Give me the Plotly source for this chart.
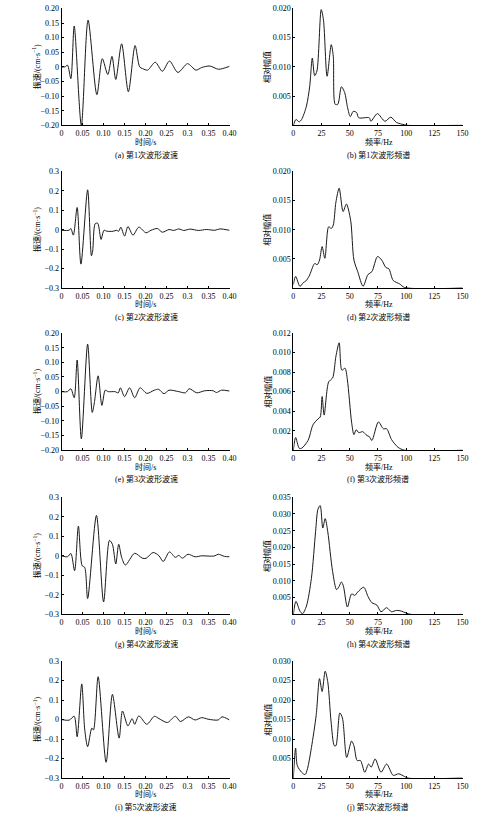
import plotly.graph_objects as go

# (a) 第1次波形波速
t1 = [0, 0.008, 0.014, 0.022, 0.030, 0.047, 0.063, 0.084, 0.097, 0.110, 0.120, 0.129, 0.143, 0.159, 0.175,
      0.186, 0.193, 0.205, 0.223, 0.240, 0.257, 0.277, 0.300, 0.320, 0.334, 0.353, 0.374, 0.400]
v1 = [0, 0, 0.006, -0.040, 0.140, -0.200, 0.160, -0.095, 0.028, -0.026, 0.036, -0.043, 0.079, -0.085, 0.073,
      0.000, -0.006, -0.011, 0.016, -0.015, 0.020, -0.019, 0.011, -0.011, -0.002, 0.003, -0.008, 0.002]
# (b) 第1次波形频谱
f1 = [0, 2.3, 5.2, 7.3, 11.6, 14.5, 16.8, 18.9, 20.9, 24.7, 26.7, 29.9, 33.6, 35.4, 37.1, 39.4, 42.6, 45.5,
      48.1, 50.5, 53.1, 56.0, 58.0, 67.3, 68.7, 74.5, 81.2, 86.4, 91.4, 98.6, 101.5, 150]
a1 = [0, 0.0010, 0.0006, 0.0010, 0.0033, 0.0067, 0.0115, 0.0085, 0.0093, 0.0198, 0.0180, 0.0084, 0.0138,
      0.0118, 0.0036, 0.0036, 0.0066, 0.0056, 0.0030, 0.0015, 0.0024, 0.0022, 0.0013, 0.0013, 0.0007, 0.0020,
      0.0007, 0.0014, 0.0005, 0.0001, 0, 0]

# (c) 第2次波形波速
t2 = [0, 0.018, 0.022, 0.028, 0.037, 0.046, 0.062, 0.071, 0.074, 0.080, 0.086, 0.094, 0.101, 0.108, 0.123,
      0.131, 0.136, 0.141, 0.150, 0.158, 0.170, 0.184, 0.201, 0.213, 0.228, 0.240, 0.256, 0.267, 0.279, 0.291,
      0.306, 0.326, 0.345, 0.365, 0.377, 0.400]
v2 = [-0.003, -0.003, 0.006, -0.028, 0.114, -0.177, 0.205, -0.134, -0.109, 0.031, 0.033, -0.050, -0.003,
      -0.008, -0.008, -0.003, -0.008, 0.013, -0.033, 0.016, -0.028, 0.013, -0.016, -0.003, 0.006, -0.013, 0.001,
      -0.004, 0.004, -0.004, 0.003, -0.004, 0.001, -0.003, 0.004, -0.003]
# (d) 第2次波形频谱
f2 = [0, 2, 5.8, 8.7, 11, 13.9, 18.9, 21.2, 23.2, 25.5, 27.9, 31.3, 33.6, 35.4, 37.7, 40.6, 44.1, 47, 50.8,
      53.7, 57.1, 61.8, 66.1, 69.6, 74.6, 78.3, 82.1, 84.7, 88.5, 94.3, 98.6, 150]
a2 = [0.0006, 0.0020, 0.0003, 0.0009, 0.0012, 0.0020, 0.0042, 0.0040, 0.0048, 0.0071, 0.0051, 0.0105, 0.0102,
      0.0108, 0.0147, 0.0171, 0.0131, 0.0144, 0.0116, 0.0048, 0.0028, 0.0003, 0.0023, 0.0028, 0.0054, 0.0048,
      0.0035, 0.0033, 0.0013, 0.0007, 0.0001, 0]

# (e) 第3次波形波速
t3 = [0, 0.014, 0.022, 0.030, 0.037, 0.047, 0.062, 0.073, 0.078, 0.087, 0.096, 0.104, 0.111, 0.127, 0.135,
      0.140, 0.150, 0.162, 0.174, 0.187, 0.203, 0.221, 0.231, 0.244, 0.256, 0.279, 0.295, 0.304, 0.322, 0.341,
      0.361, 0.369, 0.381, 0.400]
v3 = [0, 0, 0.010, -0.021, 0.108, -0.161, 0.162, -0.071, -0.038, 0.054, -0.047, 0.005, 0, 0, -0.004, 0.013,
      -0.017, 0.013, -0.021, 0.013, -0.006, 0.005, 0.008, -0.007, 0.005, 0, -0.004, 0.010, -0.004, 0.003, 0.003,
      -0.003, 0.005, 0.002]
# (f) 第3次波形频谱
f3 = [0, 2, 5.2, 7.3, 13, 17.4, 21.8, 23.8, 25.5, 27.3, 31.3, 34.8, 37.7, 40.6, 43, 45.8, 47.9, 51.6, 53.7,
      55.7, 58, 61.5, 65.3, 67.3, 69.6, 75.4, 79.8, 82.7, 87, 92.8, 98.6, 150]
a3 = [0, 0.0013, 0.0002, 0.0002, 0.0010, 0.0026, 0.0032, 0.0034, 0.0055, 0.0036, 0.0070, 0.0074, 0.0096,
      0.0110, 0.0082, 0.0084, 0.0072, 0.0029, 0.0016, 0.0021, 0.0018, 0.0019, 0.0015, 0.0014, 0.0010, 0.0029,
      0.0022, 0.0022, 0.0011, 0.0003, 0, 0]

# (g) 第4次波形波速
t4 = [0, 0.014, 0.022, 0.031, 0.040, 0.049, 0.055, 0.062, 0.083, 0.100, 0.114, 0.121, 0.129, 0.136, 0.143,
      0.152, 0.174, 0.192, 0.201, 0.218, 0.232, 0.242, 0.257, 0.271, 0.279, 0.288, 0.301, 0.318, 0.334, 0.357,
      0.365, 0.373, 0.388, 0.400]
v4 = [0, -0.005, 0.012, -0.076, 0.152, -0.051, -0.059, -0.219, 0.207, -0.236, 0.079, 0.059, -0.042, 0.059,
      -0.008, -0.047, 0.013, -0.012, -0.013, 0.017, 0, -0.029, 0.020, -0.008, 0.002, -0.012, 0.008, -0.005, 0,
      -0.002, 0, 0.008, -0.003, -0.005]
# (h) 第4次波形频谱
f4 = [0, 2.3, 5.8, 8.1, 11.6, 16, 19.7, 21.8, 23.8, 26.1, 28.2, 30.5, 34.8, 38.3, 40.6, 42.6, 44.4, 47.9,
      51.6, 54.5, 57.1, 62.4, 66.1, 69.6, 74, 77.7, 82.7, 87, 91.4, 95.7, 100, 104.4, 150]
a4 = [0, 0.0039, 0.0010, 0.0002, 0.0025, 0.0108, 0.0247, 0.0314, 0.0325, 0.0258, 0.0286, 0.0247, 0.0128,
      0.0074, 0.0084, 0.0097, 0.0084, 0.0022, 0.0061, 0.0057, 0.0067, 0.0081, 0.0054, 0.0035, 0.0028, 0.0008,
      0.0020, 0.0008, 0.0012, 0.0010, 0.0004, 0, 0]

# (i) 第5次波形波速
t5 = [0, 0.018, 0.030, 0.037, 0.048, 0.055, 0.062, 0.072, 0.076, 0.087, 0.106, 0.121, 0.137, 0.145, 0.158,
      0.168, 0.174, 0.184, 0.203, 0.221, 0.232, 0.252, 0.271, 0.283, 0.302, 0.318, 0.334, 0.349, 0.373, 0.382,
      0.400]
v5 = [0, -0.003, 0.017, -0.088, 0.183, -0.049, -0.139, -0.044, -0.053, 0.220, -0.219, 0.129, -0.095, 0.044,
      -0.032, 0.005, -0.024, 0.019, -0.024, 0.017, 0.005, -0.015, 0.017, -0.010, 0.014, -0.002, 0.010, 0.002,
      -0.002, 0.014, -0.002]
# (j) 第5次波形频谱
f5 = [0, 2, 3.5, 7.3, 10.4, 12.5, 16, 20.3, 23.2, 25.5, 28.2, 30.5, 33.4, 36.3, 37.7, 41.2, 43.5, 47.3, 51.6,
      53.7, 56.6, 59.5, 63.3, 66.7, 69, 72.5, 77.7, 82.7, 88.5, 93.4, 98.6, 101.5, 150]
a5 = [0, 0.0077, 0.0032, 0.0015, 0.0009, 0.0024, 0.0078, 0.0163, 0.0255, 0.0222, 0.0274, 0.0247, 0.0146,
      0.0083, 0.0083, 0.0167, 0.0154, 0.0053, 0.0095, 0.0083, 0.0045, 0.0045, 0.0015, 0.0036, 0.0028, 0.0049,
      0.0015, 0.0036, 0.0007, 0.0011, 0.0004, 0, 0]

# tick labels
t_ticks = [0, 0.05, 0.10, 0.15, 0.20, 0.25, 0.30, 0.35, 0.40]
t_labels = ["0", "0.05", "0.10", "0.15", "0.20", "0.25", "0.3", "0.35", "0.40"]
f_ticks = [0, 25, 50, 75, 100, 125, 150]
v_ticks_02 = [-0.20, -0.15, -0.10, -0.05, 0, 0.05, 0.10, 0.15, 0.20]
v_labels_02 = ["−0.20", "−0.15", "−0.10", "−0.05", "0", "0.05", "0.10", "0.15", "0.20"]
v_ticks_03 = [-0.3, -0.2, -0.1, 0, 0.1, 0.2, 0.3]
v_labels_03 = ["−0.3", "−0.2", "−0.1", "0", "0.1", "0.2", "0.3"]
a_ticks_020 = [0.005, 0.010, 0.015, 0.020]
a_ticks_012 = [0.002, 0.004, 0.006, 0.008, 0.010, 0.012]
a_ticks_035 = [0.005, 0.010, 0.015, 0.020, 0.025, 0.030, 0.035]
a_ticks_030 = [0.005, 0.010, 0.015, 0.020, 0.025, 0.030]

captions_left = ["(a) 第1次波形波速", "(c) 第2次波形波速", "(e) 第3次波形波速", "(g) 第4次波形波速", "(i) 第5次波形波速"]
captions_right = ["(b) 第1次波形频谱", "(d) 第2次波形频谱", "(f) 第3次波形频谱", "(h) 第4次波形频谱", "(j) 第5次波形频谱"]

W, H = 500, 818
FONT = "Liberation Serif, Times New Roman, Noto Sans CJK SC"
ROWS = [(4.5, 122.7), (169.2, 287.2), (332.7, 451.2), (498.7, 617.2), (664.4, 782.7)]
LEFT_X = (60.7, 231.7)
RIGHT_X = (296.7, 469.0)

left = [
    (t1, v1, v_ticks_02, v_labels_02),
    (t2, v2, v_ticks_03, v_labels_03),
    (t3, v3, v_ticks_02, v_labels_02),
    (t4, v4, v_ticks_03, v_labels_03),
    (t5, v5, v_ticks_03, v_labels_03),
]
right = [
    (f1, a1, a_ticks_020, [0, 0.020]),
    (f2, a2, a_ticks_020, [0, 0.020]),
    (f3, a3, a_ticks_012, [0, 0.012]),
    (f4, a4, a_ticks_035, [0, 0.035]),
    (f5, a5, a_ticks_030, [0, 0.030]),
]

fig = go.Figure()
annotations = []


def axis_style(**kw):
    d = dict(showline=True, linecolor="black", linewidth=1, ticks="inside", ticklen=2,
             tickcolor="black", tickwidth=1, showgrid=False, zeroline=False,
             tickfont=dict(family=FONT, size=8, color="black"))
    d.update(kw)
    return d


def ann(text, x, y, angle=0):
    annotations.append(dict(text=text, x=x / W, y=1 - y / H, xref="paper", yref="paper",
                            showarrow=False, xanchor="center", yanchor="middle", textangle=angle,
                            font=dict(family=FONT, size=8, color="black")))


k = 0
for i, (top, bot) in enumerate(ROWS):
    ydom = [1 - bot / H, 1 - top / H]
    for side in ("left", "right"):
        k += 1
        sx = "" if k == 1 else str(k)
        if side == "left":
            x, y, yt, yl = left[i]
            xd = LEFT_X
            xa = axis_style(range=[0, 0.40], tickvals=t_ticks, ticktext=t_labels)
            ya = axis_style(range=[yt[0], yt[-1]], tickvals=yt, ticktext=yl)
            ann("时间/s", 146, bot + 16.5)
            ann(captions_left[i], 147, bot + 29.5)
            ann("振速/(cm·s<sup>−1</sup>)", 35, (top + bot) / 2, -90)
        else:
            x, y, yt, yr = right[i]
            xd = RIGHT_X
            xa = axis_style(range=[0, 150], tickvals=f_ticks)
            ya = axis_style(range=yr, tickvals=yt, tickformat=".3f")
            ann("频率/Hz", 384, bot + 16.5)
            ann(captions_right[i], 383, bot + 29.5)
            ann("相对幅值", 270, (top + bot) / 2, -90)
        xa["domain"] = [xd[0] / W, xd[1] / W]
        xa["anchor"] = "y" + sx
        ya["domain"] = ydom
        ya["anchor"] = "x" + sx
        fig.add_trace(go.Scatter(x=x, y=y, mode="lines", xaxis="x" + sx, yaxis="y" + sx,
                                 line=dict(color="#1a1a1a", width=1, shape="spline", smoothing=0.8),
                                 showlegend=False, hoverinfo="skip"))
        fig.layout["xaxis" + sx] = xa
        fig.layout["yaxis" + sx] = ya

fig.update_layout(width=W, height=H, margin=dict(l=0, r=0, t=0, b=0),
                  paper_bgcolor="white", plot_bgcolor="white", annotations=annotations)
# the page body has an 8px default margin; drop it so the figure sits at the window corner
fig.write_html("out.html", config={"displayModeBar": False},
               post_script="document.body.style.margin='0';")
